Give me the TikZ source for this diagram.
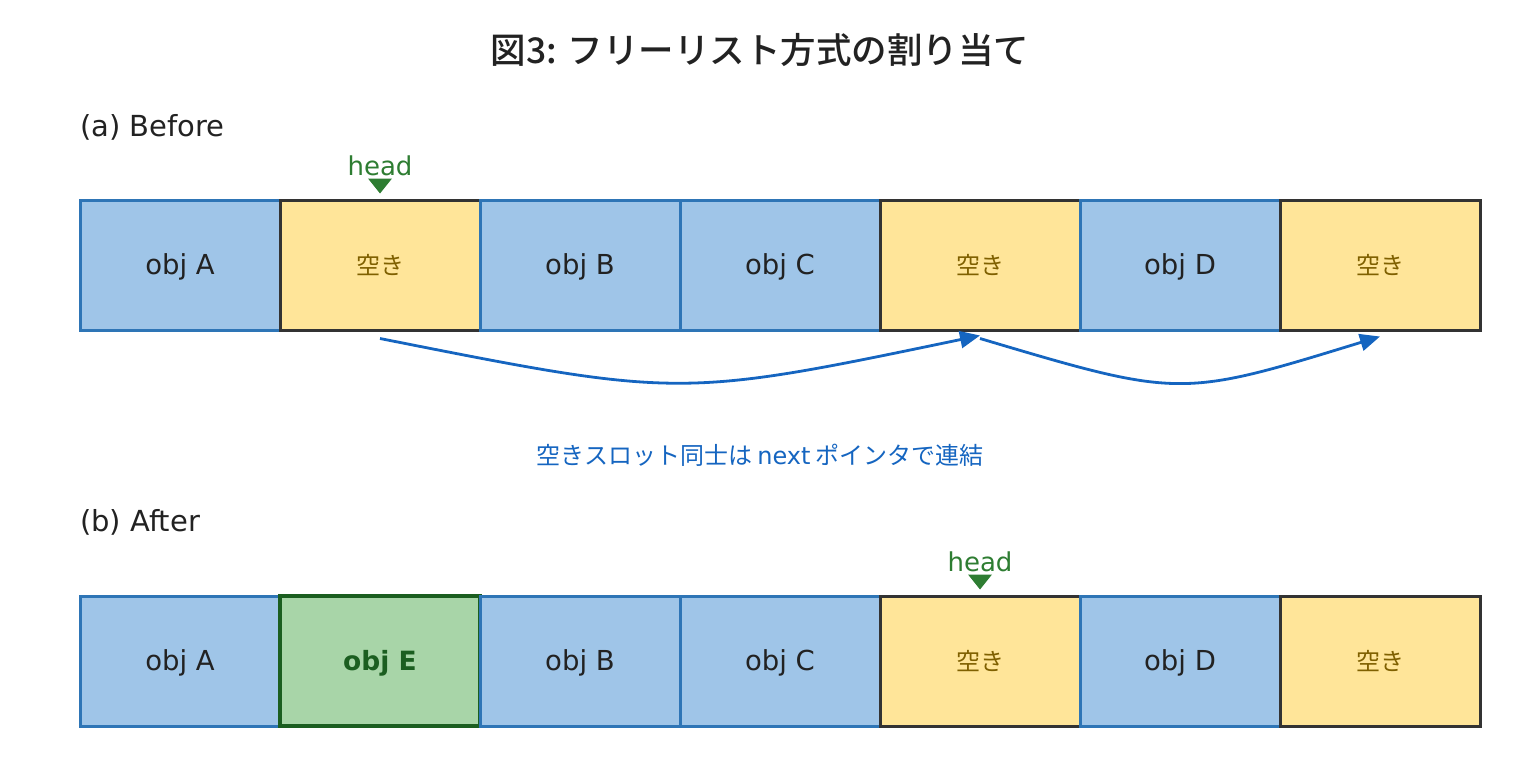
\documentclass[tikz,border=0pt]{standalone}
\usepackage{fontspec}
\setmainfont{Noto Sans CJK JP}
\newfontfamily\titlefont{Noto Sans CJK JP Medium}
\newfontfamily\latinfont{DejaVu Sans}
\usetikzlibrary{arrows.meta}
\definecolor{objfill}{HTML}{9FC5E8}
\definecolor{objline}{HTML}{2E75B6}
\definecolor{freefill}{HTML}{FFE599}
\definecolor{freeline}{HTML}{333333}
\definecolor{freetext}{HTML}{7F6000}
\definecolor{newfill}{HTML}{A8D5A8}
\definecolor{newline}{HTML}{1B5E20}
\definecolor{headgreen}{HTML}{2E7D32}
\definecolor{linkblue}{HTML}{1565C0}
\definecolor{inkgray}{HTML}{222222}
\begin{document}
\begin{tikzpicture}[x=1pt, y=-1pt,
		slot/.style={minimum width=200pt, minimum height=130pt, inner sep=0pt, line width=3pt},
		used/.style={slot, draw=objline, fill=objfill, text=inkgray, text height=20pt, text depth=2pt, font=\latinfont\fontsize{27.5}{32}\selectfont},
		free/.style={slot, draw=freeline, fill=freefill, text=freetext, font=\fontsize{24}{28}\selectfont},
		fresh/.style={slot, draw=newline, fill=newfill, text=newline, line width=4pt, text height=20pt, text depth=2pt, font=\latinfont\fontsize{26.5}{30}\selectfont\bfseries},
		headlabel/.style={text=headgreen, font=\latinfont\fontsize{26}{30}\selectfont, inner sep=0pt},
		headmark/.style={fill=headgreen},
		section/.style={text=inkgray, anchor=west, inner sep=0pt, font=\latinfont\fontsize{29}{34}\selectfont},
		link/.style={draw=linkblue, line width=2.8pt, -{Triangle[length=20pt, width=17pt]}}
	]
		\useasboundingbox (0,0) rectangle (1520,760);
		\node[text=inkgray, font=\titlefont\fontsize{35.5}{42}\selectfont] (title) at (760,50) {図3: フリーリスト方式の割り当て};

		% (a) before
		\node[section] (secA) at (80,127) {(a) Before};
		\node[used] (ua1) at (180,265) {obj A};
		\node[free] (fa1) at (380,265) {空き};
		\node[used] (ua2) at (580,265) {obj B};
		\node[used] (ua3) at (780,265) {obj C};
		\node[free] (fa2) at (980,265) {空き};
		\node[used] (ua4) at (1180,265) {obj D};
		\node[free] (fa3) at (1380,265) {空き};
		\node[headlabel] (headA) at (380,166) {head};
		\fill[headmark] ([xshift=-12pt, yshift=20pt]fa1.north) -- ([xshift=12pt, yshift=20pt]fa1.north) -- ([yshift=5pt]fa1.north) -- cycle;
		\draw[link] ([yshift=-7pt]fa1.south) .. controls (680,398) .. ([yshift=-4pt]fa2.south);
		\draw[link] ([yshift=-7pt]fa2.south) .. controls (1180,398) .. ([yshift=-5pt]fa3.south);
		\node[text=linkblue, font=\fontsize{24}{28}\selectfont] (note) at (760,455) {空きスロット同士は {\latinfont next} ポインタで連結};

		% (b) after
		\node[section] (secB) at (80,522) {(b) After};
		\node[used] (ub1) at (180,661) {obj A};
		\node[fresh] (nb1) at (380,661) {obj E};
		\node[used] (ub2) at (580,661) {obj B};
		\node[used] (ub3) at (780,661) {obj C};
		\node[free] (fb1) at (980,661) {空き};
		\node[used] (ub4) at (1180,661) {obj D};
		\node[free] (fb2) at (1380,661) {空き};
		\node[headlabel] (headB) at (980,562) {head};
		\fill[headmark] ([xshift=-12pt, yshift=20pt]fb1.north) -- ([xshift=12pt, yshift=20pt]fb1.north) -- ([yshift=5pt]fb1.north) -- cycle;
	\end{tikzpicture}
\end{document}
